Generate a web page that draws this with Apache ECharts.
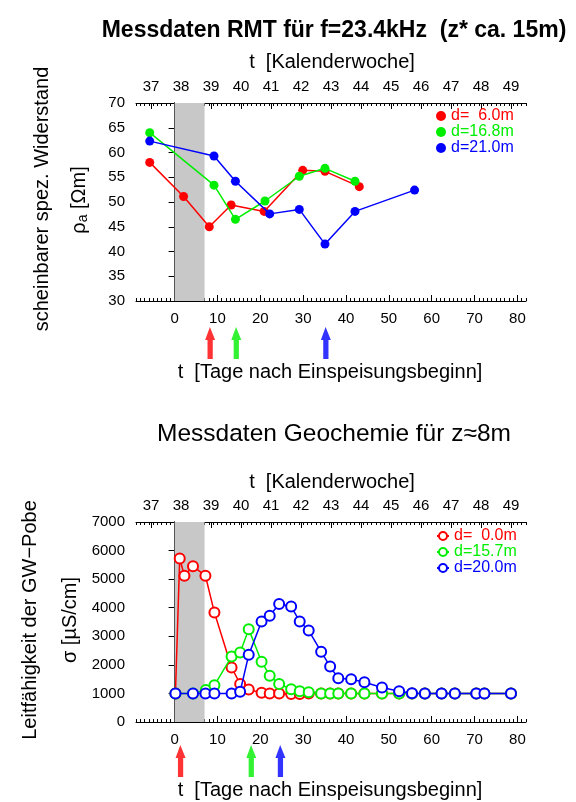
<!DOCTYPE html>
<html><head><meta charset="utf-8">
<script src="https://cdn.jsdelivr.net/npm/echarts@6/dist/echarts.min.js"></script>
<style>html,body{margin:0;padding:0;background:#fff}#c{width:576px;height:802px}</style>
</head><body><div id="c"></div>
<script>
// ---------- data ----------
var weekLabels = [37,38,39,40,41,42,43,44,45,46,47,48,49];
var dayLabels = [0,10,20,30,40,50,60,70,80];

// RMT (top chart): [day, rho_a]
var rmtNames = ['d=  6.0m','d=16.8m','d=21.0m'];
var rmt6  = [[-5.8,58.0],[2.1,51.1],[8.1,45.0],[13.2,49.4],[20.9,48.1],[29.9,56.4],[35.1,56.2],[43.1,53.1]];
var rmt16 = [[-5.8,64.0],[9.2,53.4],[14.2,46.5],[21.1,50.2],[29.1,55.2],[35.1,56.8],[42.1,54.2]];
var rmt21 = [[-5.8,62.3],[9.2,59.3],[14.2,54.2],[22.2,47.6],[29.1,48.5],[35.1,41.5],[42.1,48.1],[56.0,52.4]];
var rmtArrows = [8.3, 14.4, 35.3];

// Geochemie (bottom chart): [day, sigma]
var geoNames = ['d=  0.0m','d=15.7m','d=20.0m'];
var geo0 = [[0.2,1000],[1.2,5720],[2.3,5120],[4.3,5450],[7.2,5120],[9.3,3830],[13.3,1910],[15.3,1330],[17.3,1140],[20.3,1020],[22.2,1000],[24.4,1000],[27.2,980],[29.2,980],[31.3,1000],[34.2,1000],[36.3,1000],[38.2,1000],[41.2,1000],[44.3,1000],[48.4,1000],[52.4,1000],[55.4,1000],[58.4,1000],[62.3,1000],[65.4,1000],[70.4,1000],[72.3,1000],[78.5,1000]];
var geo15 = [[0.2,1000],[4.3,1000],[7.3,1120],[9.3,1290],[13.3,2290],[15.3,2430],[17.3,3250],[20.3,2110],[22.2,1620],[24.4,1330],[27.2,1150],[29.2,1080],[31.3,1040],[34.2,1000],[36.3,1000],[38.2,1000],[41.2,1000],[44.3,1000],[48.4,1000],[52.4,1000],[55.4,1000],[58.4,1000],[62.3,1000],[65.4,1000],[70.4,1000],[72.3,1000],[78.5,1000]];
var geo20 = [[0.2,1000],[4.3,1000],[7.2,1000],[9.3,1000],[13.3,1000],[15.3,1060],[17.3,2350],[20.3,3520],[22.2,3720],[24.4,4130],[27.2,4040],[29.2,3520],[31.3,3200],[34.2,2460],[36.3,1940],[38.2,1530],[41.2,1500],[44.3,1390],[48.4,1210],[52.4,1080],[55.4,1010],[58.4,1000],[62.3,1000],[65.4,1000],[70.4,1000],[72.3,1000],[78.5,1000]];
var geoArrows = [1.4, 17.9, 24.7];

var injectionPeriod = [0, 7];
var colors = ['#ff0000','#00ee00','#0000ff'];

// ---------- chart ----------
var FF = 'Liberation Sans, Arial, Helvetica, sans-serif';
var chart = echarts.init(document.getElementById('c'), null, {renderer:'canvas'});

function dayAxisMajor(g){ return {type:'value', gridIndex:g, position:'bottom', min:-9, max:82,
  axisLine:{show:true,lineStyle:{color:'#000',width:1}}, splitLine:{show:false},
  axisTick:{show:true,inside:true,length:6,customValues:dayLabels,lineStyle:{color:'#000'}},
  axisLabel:{show:true,customValues:dayLabels,margin:10,color:'#000',fontSize:15,fontFamily:FF}}; }
function dayAxisMinor(g,pos){ return {type:'value', gridIndex:g, position:pos, min:-9, max:82, interval:1,
  axisLine:{show:false}, splitLine:{show:false},
  axisTick:{show:true,inside:true,length:3,lineStyle:{color:'#000'}}, axisLabel:{show:false}}; }
function weekAxis(g){ return {type:'value', gridIndex:g, position:'top', min:36.5, max:49.5,
  axisLine:{show:true,lineStyle:{color:'#000',width:1}}, splitLine:{show:false},
  axisTick:{show:true,inside:true,length:6,customValues:weekLabels,lineStyle:{color:'#000'}},
  axisLabel:{show:true,customValues:weekLabels,margin:9,color:'#000',fontSize:15,fontFamily:FF}}; }
function hiddenX(g){ return {type:'value',gridIndex:g,min:-9,max:82,show:false}; }

function yLeft(g,min,max,iv){ return {type:'value',gridIndex:g,position:'left',min:min,max:max,interval:iv,
  axisLine:{show:true,lineStyle:{color:'#000'}}, splitLine:{show:false},
  axisTick:{show:true,inside:true,length:6,lineStyle:{color:'#000'}},
  axisLabel:{margin:11,color:'#000',fontSize:15,fontFamily:FF,formatter:function(v){return String(v);}}}; }
function yRight(g,min,max,iv){ return {type:'value',gridIndex:g,position:'right',min:min,max:max,interval:iv,
  axisLine:{show:true,lineStyle:{color:'#000'}}, splitLine:{show:false},
  axisTick:{show:true,inside:true,length:6,lineStyle:{color:'#000'}}, axisLabel:{show:false}}; }

function rmtSeries(i,data){ return {name:rmtNames[i],type:'line',xAxisIndex:0,yAxisIndex:0,data:data,
  symbol:'circle',symbolSize:9,z:3+i,lineStyle:{color:colors[i],width:1.5},itemStyle:{color:colors[i]}}; }
function geoSeries(i,data){ return {name:geoNames[i],type:'line',xAxisIndex:4,yAxisIndex:2,data:data,
  symbol:'emptyCircle',symbolSize:10,z:3+i,lineStyle:{color:colors[i],width:1.5},
  itemStyle:{color:colors[i],borderColor:colors[i],borderWidth:1.3}}; }

var arrowPath = 'path://M5,0 L10.5,13 L8,13 L8,32 L2.5,32 L2.5,13 L0,13 Z';
function arrowSeries(xi,yi,days){ return {type:'scatter',xAxisIndex:xi,yAxisIndex:yi,symbol:arrowPath,symbolSize:[10,32],
  data: days.map(function(d,i){ return {value:[d,0.5],itemStyle:{color:colors[i]}}; }), silent:true}; }

function bandSeries(xi,yi){ return {type:'line',xAxisIndex:xi,yAxisIndex:yi,data:[],z:1,silent:true,
  markArea:{silent:true,itemStyle:{color:'#c8c8c8'},data:[[{xAxis:injectionPeriod[0]},{xAxis:injectionPeriod[1]}]]}}; }

var option = {
  animation:false,
  backgroundColor:'#fff',
  textStyle:{fontFamily:FF},
  grid:[
    {left:136,top:103,width:390,height:198},
    {left:136,top:522,width:390,height:200},
    {left:136,top:327,width:390,height:32},
    {left:136,top:746,width:390,height:30}
  ],
  xAxis:[
    dayAxisMajor(0), dayAxisMinor(0,'bottom'), weekAxis(0), dayAxisMinor(0,'top'),
    dayAxisMajor(1), dayAxisMinor(1,'bottom'), weekAxis(1), dayAxisMinor(1,'top'),
    hiddenX(2), hiddenX(3)
  ],
  yAxis:[
    yLeft(0,30,70,5), yRight(0,30,70,5),
    yLeft(1,0,7000,1000), yRight(1,0,7000,1000),
    {type:'value',gridIndex:2,min:0,max:1,show:false},
    {type:'value',gridIndex:3,min:0,max:1,show:false}
  ],
  legend:[
    {orient:'vertical',left:436,top:108,itemGap:0,itemWidth:10,itemHeight:10,icon:'circle',padding:0,
     textStyle:{fontSize:16,fontFamily:FF},
     data: rmtNames.map(function(n,i){return {name:n,textStyle:{color:colors[i]}};})},
    {orient:'vertical',left:436,top:528,itemGap:0,itemWidth:12,itemHeight:10,padding:0,
     textStyle:{fontSize:16,fontFamily:FF},
     data: geoNames.map(function(n,i){return {name:n,textStyle:{color:colors[i]}};})}
  ],
  graphic:[
    {type:'text',x:334,y:31,style:{text:'Messdaten RMT für f=23.4kHz  (z* ca. 15m)',font:'bold 23px '+FF,fill:'#000',align:'center',verticalAlign:'middle'}},
    {type:'text',x:332,y:62,style:{text:'t  [Kalenderwoche]',font:'20px '+FF,fill:'#000',align:'center',verticalAlign:'middle'}},
    {type:'text',x:330,y:372,style:{text:'t  [Tage nach Einspeisungsbeginn]',font:'20px '+FF,fill:'#000',align:'center',verticalAlign:'middle'}},
    {type:'text',x:42,y:199,rotation:Math.PI/2,style:{text:'scheinbarer spez. Widerstand',font:'20px '+FF,fill:'#000',align:'center',verticalAlign:'middle'}},
    {type:'text',x:79,y:200,rotation:Math.PI/2,style:{text:'ρ{s|a} [Ωm]',font:'20px '+FF,fill:'#000',align:'center',verticalAlign:'middle',
       rich:{s:{font:'14px '+FF,fill:'#000',verticalAlign:'bottom',padding:[8,0,0,0]}}}},
    {type:'text',x:334,y:434,style:{text:'Messdaten Geochemie für z≈8m',font:'24.5px '+FF,fill:'#000',align:'center',verticalAlign:'middle'}},
    {type:'text',x:332,y:482,style:{text:'t  [Kalenderwoche]',font:'20px '+FF,fill:'#000',align:'center',verticalAlign:'middle'}},
    {type:'text',x:330,y:790,style:{text:'t  [Tage nach Einspeisungsbeginn]',font:'20px '+FF,fill:'#000',align:'center',verticalAlign:'middle'}},
    {type:'text',x:30,y:620,rotation:Math.PI/2,style:{text:'Leitfähigkeit der GW−Pobe',font:'20px '+FF,fill:'#000',align:'center',verticalAlign:'middle'}},
    {type:'text',x:70,y:620,rotation:Math.PI/2,style:{text:'σ [µS/cm]',font:'20px '+FF,fill:'#000',align:'center',verticalAlign:'middle'}}
  ],
  series:[
    bandSeries(0,0),
    rmtSeries(0,rmt6), rmtSeries(1,rmt16), rmtSeries(2,rmt21),
    bandSeries(4,2),
    geoSeries(0,geo0), geoSeries(1,geo15), geoSeries(2,geo20),
    arrowSeries(8,4,rmtArrows),
    arrowSeries(9,5,geoArrows)
  ]
};
chart.setOption(option);
</script>
</body></html>
